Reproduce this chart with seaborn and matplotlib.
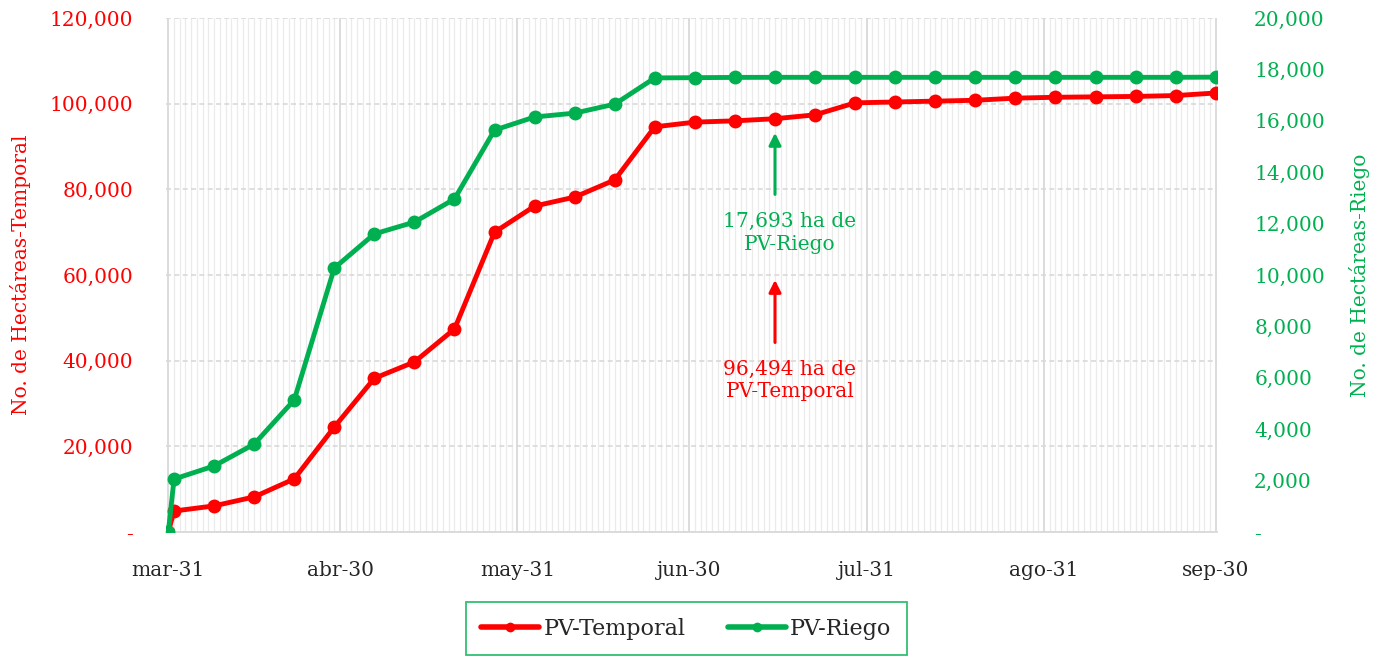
import numpy as np
import pandas as pd
import seaborn as sns
import matplotlib.pyplot as plt
import matplotlib.dates as mdates
from matplotlib.ticker import FuncFormatter, MultipleLocator

# Datos (fechas: 31-mar, 1-abr y luego semanal hasta 30-sep)
fechas = pd.to_datetime(["2021-03-31"] + list(pd.date_range("2021-04-01", "2021-09-30", freq="7D").strftime("%Y-%m-%d")))
temporal = [0, 4900, 6100, 8200, 12400, 24500, 35900, 39700, 47400, 70000, 76100, 78200,
            82200, 94600, 95700, 96000, 96494, 97400, 100200, 100400, 100600, 100800,
            101300, 101500, 101600, 101700, 101900, 102500]
riego = [0, 2060, 2570, 3420, 5140, 10270, 11600, 12060, 12960, 15640, 16150, 16300,
         16650, 17670, 17680, 17690, 17693, 17693, 17693, 17693, 17693, 17693,
         17693, 17693, 17693, 17693, 17693, 17700]
ticks_x = pd.to_datetime(["2021-03-31", "2021-04-30", "2021-05-31", "2021-06-30",
                          "2021-07-31", "2021-08-31", "2021-09-30"])
etiquetas_x = ["mar-31", "abr-30", "may-31", "jun-30", "jul-31", "ago-31", "sep-30"]

ROJO = "#FF0000"
VERDE = "#00B050"

sns.set_style("white")
plt.rcParams["font.family"] = ["DejaVu Serif"]
plt.rcParams["font.size"] = 14

fig = plt.figure(figsize=(13.81, 6.56), dpi=100)
ax = fig.add_axes([0.1205, 0.189, 0.7605, 0.7835])
ax2 = ax.twinx()

df = pd.DataFrame({"fecha": fechas, "temporal": temporal, "riego": riego})

# grid
ax.set_axisbelow(True)
ax.xaxis.set_minor_locator(mdates.DayLocator())
ax.grid(which="minor", axis="x", color="#ebebeb", linewidth=0.9)
ax.grid(which="major", axis="x", color="#d9d9d9", linewidth=1.3)
ax.grid(which="major", axis="y", color="#d9d9d9", linewidth=1.2, linestyle=(0, (3, 2)))

sns.lineplot(data=df, x="fecha", y="temporal", ax=ax, color=ROJO, marker="o",
             markersize=10, markeredgewidth=0, linewidth=3.5, label="PV-Temporal", legend=False)
sns.lineplot(data=df, x="fecha", y="riego", ax=ax2, color=VERDE, marker="o",
             markersize=10, markeredgewidth=0, linewidth=3.5, label="PV-Riego", legend=False)

ax.set_xlim(fechas[0] - pd.Timedelta(hours=8), fechas[-1] + pd.Timedelta(hours=4))
ax.set_ylim(0, 120000)
ax2.set_ylim(0, 20000)
ax.yaxis.set_major_locator(MultipleLocator(20000))
ax2.yaxis.set_major_locator(MultipleLocator(2000))

fmt = FuncFormatter(lambda v, p: "-" if v == 0 else f"{v:,.0f}")
ax.yaxis.set_major_formatter(fmt)
ax2.yaxis.set_major_formatter(fmt)

ax.set_xticks(ticks_x)
ax.set_xticklabels(etiquetas_x)
ax.tick_params(axis="x", which="major", length=6, color="#d9d9d9", width=1.3, pad=15, labelsize=14.5)
ax.tick_params(axis="x", which="minor", length=0)
ax.tick_params(axis="y", length=0, pad=24, labelcolor=ROJO, labelsize=14.5)
ax2.tick_params(axis="y", length=0, pad=27, labelcolor=VERDE, labelsize=14.5)

for a in (ax, ax2):
    for s in a.spines.values():
        s.set_visible(False)
ax.spines["bottom"].set_visible(True)
ax.spines["bottom"].set_color("#d9d9d9")
ax.spines["bottom"].set_linewidth(1.3)

ax.set_xlabel("")
ax.set_ylabel("No. de Hectáreas-Temporal", color=ROJO, fontsize=14.5, labelpad=13)
ax2.set_ylabel("No. de Hectáreas-Riego", color=VERDE, fontsize=14.5, labelpad=17)

# anotaciones
x_ann = fechas[16]
ax2.annotate("", xy=(x_ann, 15640), xytext=(x_ann, 13030),
             arrowprops=dict(arrowstyle="-|>", color=VERDE, lw=2.2, mutation_scale=18))
ax2.text(x_ann + pd.Timedelta(days=2.6), 11630, "17,693 ha de\nPV-Riego",
         color=VERDE, ha="center", va="center", fontsize=14.5, linespacing=1.25)
ax.annotate("", xy=(x_ann, 59500), xytext=(x_ann, 43600),
            arrowprops=dict(arrowstyle="-|>", color=ROJO, lw=2.2, mutation_scale=18))
ax.text(x_ann + pd.Timedelta(days=2.6), 35400, "96,494 ha de\nPV-Temporal",
        color=ROJO, ha="center", va="center", fontsize=14.5, linespacing=1.25)

h1, l1 = ax.get_legend_handles_labels()
h2, l2 = ax2.get_legend_handles_labels()
leg = fig.legend(h1 + h2, l1 + l2, loc="lower center", bbox_to_anchor=(0.497, 0.001),
                 ncol=2, frameon=True, fancybox=False, edgecolor=VERDE, fontsize=16,
                 handlelength=2.6, columnspacing=1.9, borderpad=0.7, handletextpad=0.2,
                 borderaxespad=0.0, markerscale=0.7)
leg.get_frame().set_linewidth(1.3)
for h in leg.legend_handles:
    h.set_linewidth(4)

fig.savefig("out.png", dpi=100)
